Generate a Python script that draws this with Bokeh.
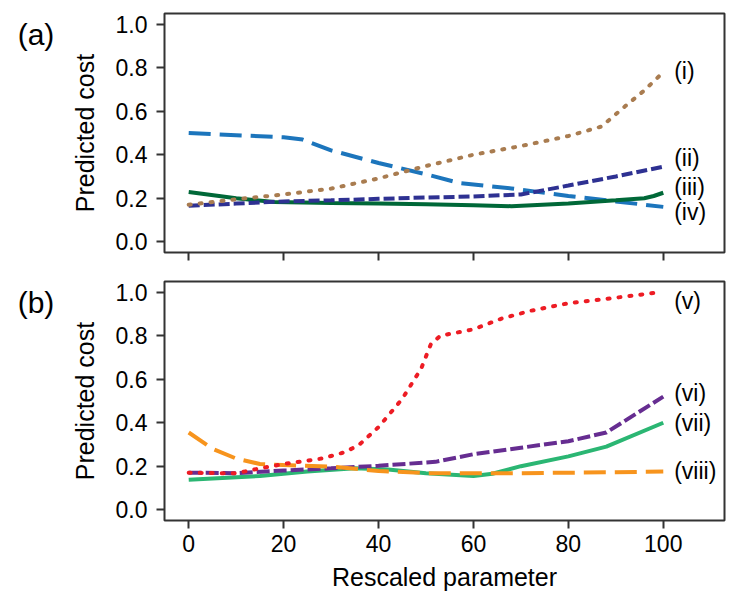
from bokeh.plotting import figure
from bokeh.models import Range1d, FixedTicker, NumeralTickFormatter, ColumnDataSource, Div
from bokeh.layouts import column, row
from bokeh.core.properties import value
from bokeh.embed import file_html
from bokeh.resources import INLINE

# ---- data: panel (a) ----
x_i = [0, 10, 20, 30, 40, 45, 50, 60, 70, 80, 87, 92, 96, 100]
y_i = [0.17, 0.195, 0.217, 0.244, 0.291, 0.32, 0.348, 0.40, 0.44, 0.486, 0.53, 0.624, 0.696, 0.78]
x_ii = [0, 10, 20, 30, 40, 50, 60, 70, 80, 90, 100]
y_ii = [0.165, 0.175, 0.185, 0.19, 0.197, 0.203, 0.208, 0.217, 0.258, 0.30, 0.345]
x_iii = [0, 10, 18, 30, 40, 50, 60, 68, 80, 90, 96, 98, 100]
y_iii = [0.228, 0.20, 0.182, 0.178, 0.175, 0.172, 0.168, 0.163, 0.175, 0.19, 0.20, 0.21, 0.225]
x_iv = [0, 10, 20, 24, 30, 40, 50, 57, 68, 80, 90, 100]
y_iv = [0.50, 0.49, 0.48, 0.47, 0.42, 0.362, 0.31, 0.27, 0.245, 0.21, 0.185, 0.16]

# ---- data: panel (b) ----
x_v = [0, 10, 15, 20, 28, 33, 36, 40, 45, 49, 51, 53, 60, 66, 72, 80, 88, 98]
y_v = [0.17, 0.167, 0.19, 0.21, 0.235, 0.265, 0.30, 0.38, 0.51, 0.65, 0.76, 0.80, 0.83, 0.88, 0.915, 0.95, 0.97, 0.997]
x_vi = [0, 10, 20, 30, 40, 52, 60, 70, 80, 88, 100]
y_vi = [0.17, 0.168, 0.18, 0.19, 0.202, 0.22, 0.255, 0.285, 0.315, 0.355, 0.52]
x_vii = [0, 15, 25, 35, 42, 50, 60, 64, 70, 80, 88, 100]
y_vii = [0.137, 0.155, 0.175, 0.19, 0.185, 0.168, 0.155, 0.165, 0.20, 0.245, 0.29, 0.40]
x_viii = [0, 5, 10, 15, 20, 30, 40, 50, 60, 70, 80, 90, 100]
y_viii = [0.355, 0.28, 0.235, 0.21, 0.205, 0.198, 0.178, 0.168, 0.167, 0.168, 0.17, 0.172, 0.175]

# ---- curve labels ----
labels_a = ["(i)", "(ii)", "(iii)", "(iv)"]
labels_a_y = [0.785, 0.385, 0.25, 0.135]
labels_b = ["(v)", "(vi)", "(vii)", "(viii)"]
labels_b_y = [0.96, 0.537, 0.398, 0.178]
label_x = 102.3
panel_labels = ["(a)", "(b)"]

x_ticks = [0, 20, 40, 60, 80, 100]
y_ticks = [0.0, 0.2, 0.4, 0.6, 0.8, 1.0]

FONT = "Liberation Sans"
FRAME = "#333333"
SIDE = 60


def make_fig(top, bottom, show_xlabels):
    p = figure(frame_width=560, frame_height=239,
               x_range=Range1d(-5.1, 112.9), y_range=Range1d(-0.05, 1.05),
               min_border_left=164 - SIDE, min_border_right=20,
               min_border_top=top, min_border_bottom=bottom,
               output_backend="svg", toolbar_location=None,
               background_fill_color="white", border_fill_color="white")
    p.outline_line_color = FRAME
    p.outline_line_width = 2
    p.xgrid.visible = False
    p.ygrid.visible = False
    for ax in (p.xaxis, p.yaxis):
        ax.axis_line_color = None
        ax.major_tick_in = 0
        ax.major_tick_out = 8
        ax.major_tick_line_width = 2
        ax.major_tick_line_color = FRAME
        ax.minor_tick_line_color = None
        ax.major_label_text_font = FONT
        ax.major_label_text_font_size = "23px"
        ax.major_label_text_color = "black"
        ax.axis_label_text_font = FONT
        ax.axis_label_text_font_size = "25px"
        ax.axis_label_text_font_style = "normal"
        ax.axis_label_text_color = "black"
    p.xaxis.major_label_standoff = 6
    p.yaxis.major_label_standoff = 9
    p.yaxis.axis_label_standoff = 14
    p.xaxis.axis_label_standoff = 8
    p.xaxis.ticker = FixedTicker(ticks=x_ticks)
    p.yaxis.ticker = FixedTicker(ticks=y_ticks)
    p.yaxis.formatter = NumeralTickFormatter(format="0.0")
    p.yaxis.axis_label = "Predicted cost"
    if show_xlabels:
        p.xaxis.axis_label = "Rescaled parameter"
    else:
        p.xaxis.major_label_overrides = {t: "" for t in x_ticks}
    return p


p1 = make_fig(13, 26, False)
p2 = make_fig(3, 76, True)

LW = 4
p1.line(x_iv, y_iv, line_color="#1c75bc", line_width=LW, line_dash="22 9")
p1.line(x_iii, y_iii, line_color="#006838", line_width=LW)
p1.line(x_ii, y_ii, line_color="#2e3192", line_width=LW, line_dash="11 4")
p1.line(x_i, y_i, line_color="#a97c50", line_width=LW, line_dash="2 9", line_cap="round")

p2.line(x_vii, y_vii, line_color="#2bb673", line_width=LW)
p2.line(x_vi, y_vi, line_color="#662d91", line_width=LW, line_dash="13 4")
p2.line(x_viii, y_viii, line_color="#f7941d", line_width=LW, line_dash="22 9")
p2.line(x_v, y_v, line_color="#ed1c24", line_width=LW, line_dash="2 9", line_cap="round")

src_a = ColumnDataSource(dict(x=[label_x] * len(labels_a), y=labels_a_y, t=labels_a))
src_b = ColumnDataSource(dict(x=[label_x] * len(labels_b), y=labels_b_y, t=labels_b))
for p, src in ((p1, src_a), (p2, src_b)):
    p.text(x="x", y="y", text="t", source=src, text_font=value(FONT),
           text_font_size=value("23px"), text_align="left", text_baseline="middle",
           text_color="black")


def side_label(txt, pad_top, h):
    return Div(text=txt, width=SIDE, height=h, margin=0,
               styles={"font-family": FONT, "font-size": "30px", "line-height": "34px",
                       "padding-top": f"{pad_top}px", "padding-left": "12px",
                       "text-align": "center", "color": "black", "box-sizing": "border-box"})


d1 = side_label(panel_labels[0], 18, 278)
d2 = side_label(panel_labels[1], 8, 318)

layout = column(row(d1, p1, spacing=0), row(d2, p2, spacing=0), spacing=0)
open("out.html", "w").write(file_html(layout, INLINE))
